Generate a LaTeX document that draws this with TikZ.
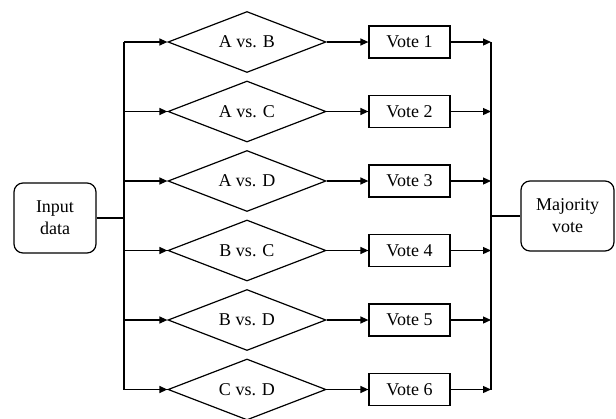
\documentclass[tikz,border=0pt]{standalone}
\usepackage{fontspec}
\setmainfont{Liberation Serif}
\usetikzlibrary{shapes.geometric,arrows.meta}
\begin{document}
\begin{tikzpicture}[x=1pt,y=-1pt,
  every node/.style={font=\fontsize{18}{22}\selectfont},
  line/.style={line width=1.2pt},
  arr/.style={line width=1.2pt,-{Triangle[length=8pt,width=7pt]}},
  cmp/.style={draw,line width=1.2pt,diamond,aspect=2.6,minimum width=158pt,minimum height=61pt,inner sep=0pt},
  votebox/.style={draw,line width=1.2pt,minimum width=81pt,minimum height=32pt,inner sep=0pt},
  endbox/.style={draw,line width=1.2pt,rounded corners=9pt,align=center,minimum height=70pt,inner sep=0pt}]
\useasboundingbox (0,0) rectangle (616,418);
\node[endbox,minimum width=82pt] (in) at (55,218) {Input\\data};
\node[endbox,minimum width=93pt] (mv) at (567.5,216) {Majority\\vote};
\foreach \i/\lab/\y in {1/A vs. B/42,2/A vs. C/111.5,3/A vs. D/181,4/B vs. C/250.5,5/B vs. D/320,6/C vs. D/389.5}{
  \node[cmp] (d\i) at (247,\y) {\lab};
  \node[votebox] (v\i) at (409.5,\y) {Vote \i};
  \coordinate (lb\i) at (124,\y);
  \coordinate (rb\i) at (491,\y);
  \draw[arr] (lb\i) -- (d\i.west);
  \draw[arr] (d\i.east) -- (v\i.west);
  \draw[arr] (v\i.east) -- (rb\i);
}
\coordinate (lj) at (124,218);
\coordinate (rj) at (491,216);
\draw[line] (lb1) -- (lb6);
\draw[line] (rb1) -- (rb6);
\draw[line] (in) -- (lj);
\draw[line] (rj) -- (mv);
\end{tikzpicture}
\end{document}
